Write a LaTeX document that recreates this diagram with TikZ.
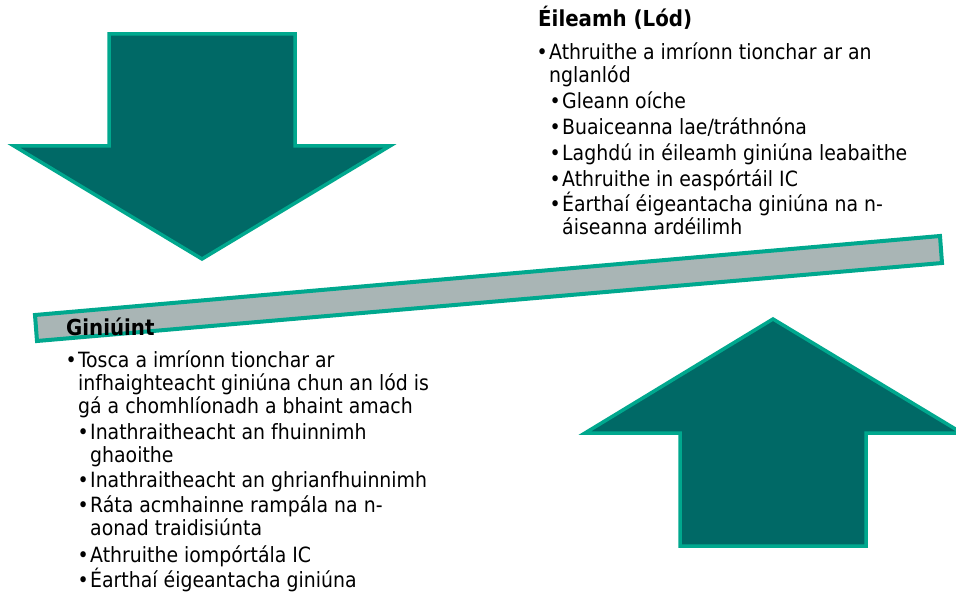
\documentclass[tikz,border=0pt]{standalone}
\usepackage{fontspec}
\setmainfont{DejaVu Sans Condensed}
\usetikzlibrary{positioning}

\definecolor{arrowfill}{HTML}{006966}
\definecolor{arrowedge}{HTML}{00A88E}
\definecolor{beamfill}{HTML}{A9B5B5}

\tikzset{
  bigarrow/.style={fill=arrowfill, draw=arrowedge, line width=3.5pt, line join=miter},
  beam/.style={fill=beamfill, draw=arrowedge, line width=4pt},
  head/.style={anchor=base west, inner sep=0pt, font=\fontsize{22}{26}\selectfont\bfseries},
  item/.style={anchor=base west, inner sep=0pt, align=left, font=\fontsize{21}{23}\selectfont},
  dot/.style={anchor=base east, inner sep=0pt, font=\fontsize{21}{23}\selectfont}
}

\begin{document}
\begin{tikzpicture}[x=1pt, y=-1pt]
	\clip (0,0) rectangle (956,596);
	\fill[white] (0,0) rectangle (956,596);

	% demand arrow (down)
	\draw[bigarrow] (109,34) -- (295,34) -- (295,146) -- (390,146) -- (202,259) -- (14,146) -- (109,146) -- cycle;
	% supply arrow (up)
	\draw[bigarrow] (680,546) -- (866,546) -- (866,433) -- (962,433) -- (773,319) -- (585,433) -- (680,433) -- cycle;
	% the beam
	\draw[beam] (35,315) -- (940,236) -- (942,263) -- (37,341) -- cycle;

	% demand text (nodes sit on the baseline of their last line)
	\node[head] (load) at (538,27) {Éileamh (Lód)};
	\node[item] (d1) at (549,83) {Athruithe a imríonn tionchar ar an\\nglanlód};
	\node[item] (d2) at (562,109) {Gleann oíche};
	\node[item] (d3) at (562,135) {Buaiceanna lae/tráthnóna};
	\node[item] (d4) at (562,161) {Laghdú in éileamh giniúna leabaithe};
	\node[item] (d5) at (562,187) {Athruithe in easpórtáil IC};
	\node[item] (d6) at (562,235) {Éarthaí éigeantacha giniúna na n-\\áiseanna ardéilimh};

	% generation text
	\node[head] (gen) at (66,335) {Giniúint};
	\node[item] (g1) at (78,413) {Tosca a imríonn tionchar ar\\infhaighteacht giniúna chun an lód is\\gá a chomhlíonadh a bhaint amach};
	\node[item] (g2) at (90,462) {Inathraitheacht an fhuinnimh\\ghaoithe};
	\node[item] (g3) at (90,487) {Inathraitheacht an ghrianfhuinnimh};
	\node[item] (g4) at (90,535) {Ráta acmhainne rampála na n-\\aonad traidisiúnta};
	\node[item] (g5) at (90,562) {Athruithe iompórtála IC};
	\node[item] (g6) at (90,587) {Éarthaí éigeantacha giniúna};

	% bullets on the first line of each item
	\foreach \n/\k in {d1/1,d2/0,d3/0,d4/0,d5/0,d6/1,g1/2,g2/1,g3/0,g4/1,g5/0,g6/0}
		\node[dot] at ([xshift=-1pt, yshift=\k*23pt]\n.base west) {•};
\end{tikzpicture}
\end{document}
